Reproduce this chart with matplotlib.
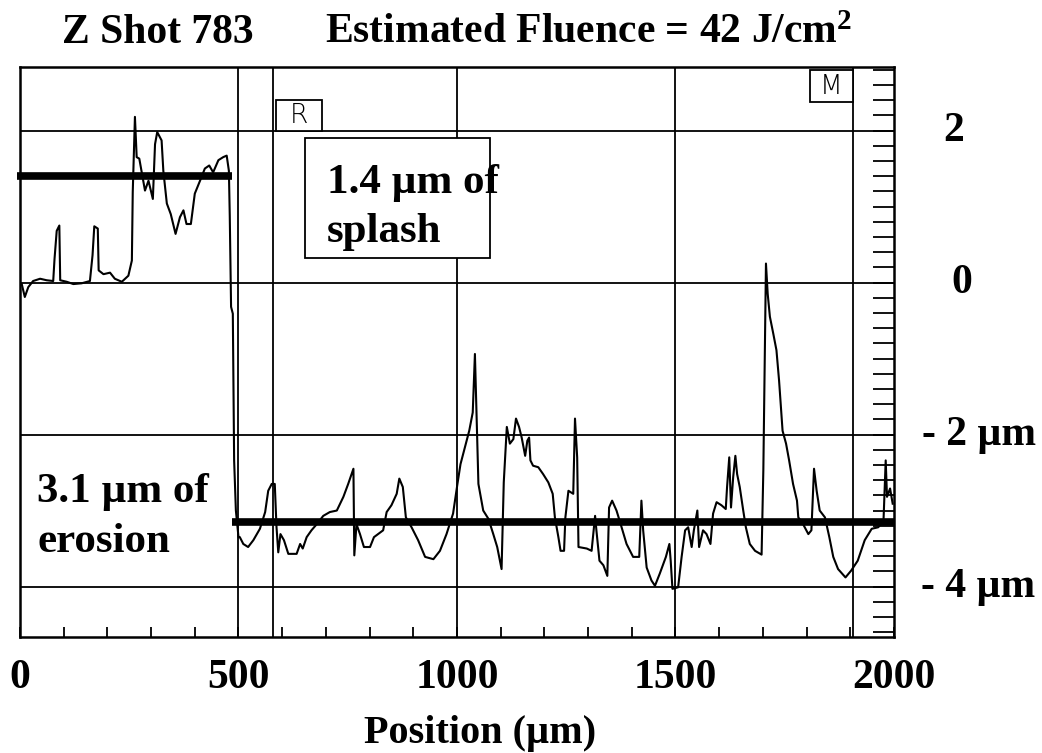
import matplotlib
matplotlib.use('Agg')
import matplotlib.pyplot as plt
from matplotlib.ticker import MultipleLocator
from matplotlib.patches import Rectangle

plt.rcParams['mathtext.fontset'] = 'custom'
plt.rcParams['mathtext.rm'] = 'Liberation Serif:bold'
plt.rcParams['mathtext.bf'] = 'Liberation Serif:bold'
plt.rcParams['mathtext.it'] = 'Liberation Serif:bold'

# ---------------- data ----------------
position_um = [4, 11, 19, 30, 46, 61, 76, 79, 84, 90, 92, 107, 122, 141, 160, 166, 170, 178, 180, 191,
               206, 217, 233, 248, 256, 258, 263, 267, 273, 278, 286, 294, 304, 309, 314, 324, 328, 336,
               345, 356, 366, 374, 381, 391, 400, 412, 423, 433, 442, 454, 465, 473, 478, 480, 483, 487,
               490, 494, 500, 503, 511, 522, 534, 549, 561, 568, 576, 583, 587, 591, 596, 604, 614, 633,
               641, 647, 656, 667, 679, 694, 709, 725, 740, 751, 763, 765, 770, 778, 787, 801, 810, 831,
               839, 850, 862, 868, 876, 883, 896, 911, 927, 946, 961, 976, 991, 1001, 1008, 1018, 1028,
               1036, 1041, 1045, 1049, 1060, 1072, 1083, 1092, 1102, 1107, 1114, 1121, 1129, 1135, 1142,
               1148, 1156, 1161, 1165, 1168, 1174, 1186, 1197, 1209, 1219, 1224, 1232, 1237, 1245, 1248,
               1255, 1266, 1270, 1275, 1278, 1297, 1308, 1316, 1319, 1326, 1335, 1344, 1348, 1355, 1365,
               1373, 1388, 1403, 1417, 1422, 1426, 1434, 1445, 1453, 1464, 1478, 1486, 1489, 1493, 1506,
               1514, 1522, 1529, 1537, 1542, 1550, 1554, 1563, 1571, 1580, 1586, 1594, 1605, 1615, 1618,
               1623, 1627, 1632, 1637, 1641, 1647, 1655, 1661, 1670, 1682, 1697, 1701, 1705, 1707, 1711,
               1716, 1724, 1731, 1737, 1745, 1753, 1760, 1769, 1778, 1781, 1792, 1804, 1811, 1817, 1823,
               1830, 1842, 1852, 1861, 1872, 1889, 1902, 1917, 1933, 1949, 1964, 1976, 1981, 1984, 1991,
               1997]
height_um = [-0.02, -0.19, -0.06, 0.02, 0.05, 0.03, 0.02, 0.31, 0.68, 0.75, 0.03, 0.01, -0.02, -0.01,
             0.02, 0.36, 0.74, 0.71, 0.16, 0.11, 0.13, 0.05, 0.01, 0.09, 0.29, 1.19, 2.18, 1.65, 1.63,
             1.47, 1.21, 1.34, 1.10, 1.82, 1.98, 1.87, 1.47, 1.04, 0.90, 0.64, 0.86, 0.95, 0.77, 0.77,
             1.17, 1.34, 1.50, 1.54, 1.45, 1.61, 1.65, 1.67, 1.47, 0.88, -0.32, -0.41, -2.34, -3.0,
             -3.35, -3.35, -3.44, -3.48, -3.39, -3.24, -3.02, -2.74, -2.65, -2.65, -3.22, -3.55, -3.31,
             -3.39, -3.57, -3.57, -3.44, -3.50, -3.35, -3.26, -3.18, -3.07, -3.02, -3.0, -2.82, -2.65,
             -2.45, -3.59, -3.18, -3.31, -3.48, -3.48, -3.35, -3.26, -3.02, -2.93, -2.78, -2.58, -2.69,
             -3.09, -3.22, -3.39, -3.61, -3.64, -3.53, -3.31, -3.04, -2.65, -2.39, -2.17, -1.95, -1.71,
             -0.94, -1.77, -2.65, -3.0, -3.11, -3.31, -3.48, -3.77, -2.63, -1.90, -2.12, -2.06, -1.79,
             -1.90, -2.04, -2.28, -2.08, -2.04, -2.34, -2.41, -2.43, -2.52, -2.63, -2.78, -3.09, -3.35,
             -3.53, -3.53, -3.09, -2.74, -2.78, -1.79, -2.30, -3.48, -3.50, -3.53, -3.07, -3.26, -3.66,
             -3.72, -3.86, -2.96, -2.87, -3.0, -3.15, -3.44, -3.61, -3.61, -2.87, -3.26, -3.75, -3.92,
             -3.99, -3.83, -3.61, -3.44, -3.66, -4.03, -4.01, -3.61, -3.26, -3.22, -3.48, -3.26, -3.0,
             -3.48, -3.26, -3.31, -3.44, -3.04, -2.89, -2.93, -2.98, -2.69, -2.30, -2.96, -2.56, -2.28,
             -2.52, -2.69, -3.0, -3.22, -3.44, -3.53, -3.58, -2.47, -0.63, 0.25, -0.15, -0.45, -0.68,
             -0.89, -1.29, -1.95, -2.12, -2.34, -2.65, -2.87, -3.09, -3.18, -3.31, -3.26, -2.45, -2.74,
             -3.0, -3.09, -3.35, -3.61, -3.77, -3.88, -3.79, -3.66, -3.39, -3.24, -3.22, -3.13, -2.34,
             -2.82, -2.71, -2.91]

splash_level_um = 1.4
erosion_level_um = -3.15
step_position_um = 485

x_tick_values = [0, 500, 1000, 1500, 2000]
x_tick_labels = ['0', '500', '1000', '1500', '2000']
y_label_values = [2, 0, -2, -4]
y_label_texts = ['2', '0', '- 2 µm', '- 4 µm']
marker_positions_um = [579, 1906]
marker_labels = ['R', 'M']

title_left = 'Z Shot 783'
title_right = r'Estimated Fluence = 42 J/cm$^{\mathbf{2}}$'
x_label = 'Position (µm)'
splash_text = ['1.4 µm of', 'splash']
erosion_text = ['3.1 µm of', 'erosion']

# ---------------- figure ----------------
SERIF = ['Liberation Serif', 'DejaVu Serif']
W, H = 1042, 753
fig = plt.figure(figsize=(W / 100, H / 100), dpi=100)
ax = fig.add_axes([20 / W, (H - 637) / H, 874 / W, 570 / H])
ax.set_xlim(0, 2000)
ax.set_ylim(-4.664, 2.836)

for s in ax.spines.values():
    s.set_linewidth(1.8)
    s.set_color('black')

# grid lines
for yv in y_label_values:
    ax.axhline(yv, color='black', lw=1.3, zorder=1)
for xv in x_tick_values[1:-1] + marker_positions_um:
    ax.axvline(xv, color='black', lw=1.3, zorder=1)

# ticks
ax.set_xticks(x_tick_values, x_tick_labels)
ax.xaxis.set_minor_locator(MultipleLocator(100))
ax.tick_params(axis='x', which='both', direction='in', length=7, width=1.3, top=False,
               pad=16, labelsize=30)
for lab in ax.get_xticklabels():
    lab.set_fontfamily(SERIF)
    lab.set_fontweight('bold')
ax.yaxis.set_major_locator(MultipleLocator(0.2))
ax.tick_params(axis='y', which='both', direction='in', length=15, width=1.3,
               left=False, right=True, labelleft=False, labelright=False)

# right side labels
label_x_axes = [(954 - 20) / 874, (962 - 20) / 874, (922 - 20) / 874, (921 - 20) / 874]
label_ha = ['center', 'center', 'left', 'left']
for yv, txt, xa, ha in zip(y_label_values, y_label_texts, label_x_axes, label_ha):
    ax.text(xa, yv, txt, transform=ax.get_yaxis_transform(), ha=ha, va='center',
            fontsize=30, fontweight='bold', family=SERIF, clip_on=False)

# trace
ax.plot(position_um, height_um, color='black', lw=1.5, zorder=3)

# level bars
ax.plot([-7, step_position_um], [splash_level_um, splash_level_um], color='black', lw=5.5,
        solid_capstyle='butt', zorder=4, clip_on=False)
ax.plot([step_position_um, 2000], [erosion_level_um, erosion_level_um], color='black', lw=5.5,
        solid_capstyle='butt', zorder=4)

# marker boxes
marker_boxes = [(586, 691, 1.99, 2.40), (1808, 1906, 2.37, 2.80)]
for (x0, x1, y0, y1), lab in zip(marker_boxes, marker_labels):
    ax.add_patch(Rectangle((x0, y0), x1 - x0, y1 - y0, fc='white', ec='black', lw=1.3, zorder=5))
    ax.text((x0 + x1) / 2, (y0 + y1) / 2, lab, ha='center', va='center', fontsize=19,
            family='DejaVu Sans', fontweight='light', zorder=6)

# splash annotation box
ax.add_patch(Rectangle((652, 0.32), 1075 - 652, 1.90 - 0.32, fc='white', ec='black', lw=1.3,
                       zorder=5))
ax.text(702, 1.18, splash_text[0], ha='left', va='baseline', fontsize=31, fontweight='bold',
        family=SERIF, zorder=6)
ax.text(702, 0.53, splash_text[1], ha='left', va='baseline', fontsize=31, fontweight='bold',
        family=SERIF, zorder=6)

# erosion annotation
ax.text(39, -2.89, erosion_text[0], ha='left', va='baseline', fontsize=31, fontweight='bold',
        family=SERIF, zorder=6)
ax.text(39, -3.55, erosion_text[1], ha='left', va='baseline', fontsize=31, fontweight='bold',
        family=SERIF, zorder=6)

# titles
fig.text(62 / W, 1 - 43 / H, title_left, ha='left', va='baseline', fontsize=30,
         fontweight='bold', family=SERIF)
fig.text(325 / W, 1 - 43 / H, title_right, ha='left', va='baseline', fontsize=30,
         fontweight='bold', family=SERIF)

# x label
fig.text(480 / W, 1 - 743 / H, x_label, ha='center', va='baseline', fontsize=29,
         fontweight='bold', family=SERIF)

fig.savefig('out.png', dpi=100, facecolor='white')
